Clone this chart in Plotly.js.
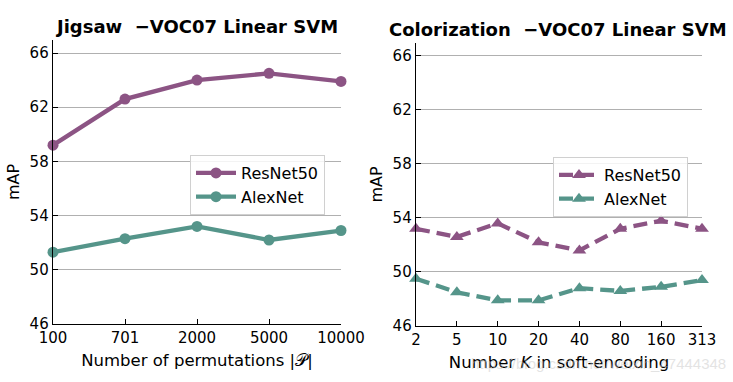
<!DOCTYPE html>
<html>
<head>
<meta charset="utf-8">
<script src="https://cdn.plot.ly/plotly-3.0.1.min.js"></script>
<style>html,body{margin:0;padding:0;background:#fff;}#chart{width:733px;height:382px;}</style>
</head>
<body>
<div id="chart"></div>
<script>
// Left panel: Jigsaw
const jigsawPerms = ["100", "701", "2000", "5000", "10000"];
const jigsawResNet50 = [59.2, 62.6, 64.0, 64.5, 63.9];
const jigsawAlexNet = [51.3, 52.3, 53.2, 52.2, 52.9];
// Right panel: Colorization
const colorK = ["2", "5", "10", "20", "40", "80", "160", "313"];
const colorResNet50 = [53.2, 52.6, 53.6, 52.2, 51.6, 53.2, 53.8, 53.2];
const colorAlexNet = [49.5, 48.5, 47.9, 47.9, 48.8, 48.6, 48.9, 49.4];
const yTicks = [46, 50, 54, 58, 62, 66];

const purple = "#8c5484";
const teal = "#55958a";
const FONT = "DejaVu Sans, sans-serif";

const traces = [
  {x: jigsawPerms, y: jigsawResNet50, name: "ResNet50", type: "scatter", mode: "lines+markers",
   xaxis: "x", yaxis: "y", legend: "legend", cliponaxis: false,
   line: {color: purple, width: 4.3}, marker: {color: purple, size: 11, symbol: "circle"}},
  {x: jigsawPerms, y: jigsawAlexNet, name: "AlexNet", type: "scatter", mode: "lines+markers",
   xaxis: "x", yaxis: "y", legend: "legend", cliponaxis: false,
   line: {color: teal, width: 4.3}, marker: {color: teal, size: 11, symbol: "circle"}},
  {x: colorK, y: colorResNet50, name: "ResNet50", type: "scatter", mode: "lines+markers",
   xaxis: "x2", yaxis: "y2", legend: "legend2", cliponaxis: false,
   line: {color: purple, width: 4.3, dash: "14px,7px"}, marker: {color: purple, size: 12, symbol: "triangle-up"}},
  {x: colorK, y: colorAlexNet, name: "AlexNet", type: "scatter", mode: "lines+markers",
   xaxis: "x2", yaxis: "y2", legend: "legend2", cliponaxis: false,
   line: {color: teal, width: 4.3, dash: "14px,7px"}, marker: {color: teal, size: 12, symbol: "triangle-up"}}
];

function xax(domain, n, anchor, title) {
  return {
    domain: domain, anchor: anchor, type: "category", range: [0, n - 1],
    showline: true, linecolor: "#000", linewidth: 1.3, mirror: false,
    ticks: "inside", ticklen: 5, tickcolor: "#000", tickwidth: 1,
    showgrid: false, zeroline: false,
    tickfont: {family: FONT, size: 15, color: "#000"},
    title: {text: title, font: {family: FONT, size: 16.5, color: "#000"}, standoff: 8},
    fixedrange: true
  };
}
function yax(domain, anchor) {
  return {
    domain: domain, anchor: anchor, range: [46, 66.96],
    tickvals: yTicks, ticktext: yTicks.map(String),
    showline: true, linecolor: "#000", linewidth: 1.3,
    ticks: "inside", ticklen: 5, tickcolor: "#000", tickwidth: 1,
    showgrid: true, gridcolor: "#b0b0b0", gridwidth: 1, zeroline: false,
    tickfont: {family: FONT, size: 15, color: "#000"},
    title: {text: "mAP", font: {family: FONT, size: 16, color: "#000"}, standoff: 6},
    fixedrange: true
  };
}

const layout = {
  width: 733, height: 382,
  margin: {l: 0, r: 0, t: 0, b: 0},
  paper_bgcolor: "#fff", plot_bgcolor: "#fff",
  font: {family: FONT, color: "#000"},
  xaxis: xax([53/733, 341/733], jigsawPerms.length, "y", "Number of permutations |𝒫|"),
  yaxis: yax([(382-324)/382, (382-40)/382], "x"),
  xaxis2: xax([416/733, 702/733], colorK.length, "y2", "Number <i>K</i> in soft-encoding"),
  yaxis2: yax([(382-326)/382, (382-43)/382], "x2"),
  legend: {x: 190/733, y: 1 - 155/382, xanchor: "left", yanchor: "top",
    bgcolor: "rgba(255,255,255,0.85)", bordercolor: "#d0d0d0", borderwidth: 1,
    font: {family: FONT, size: 16, color: "#000"}, itemwidth: 40},
  legend2: {x: 553/733, y: 1 - 157/382, xanchor: "left", yanchor: "top",
    bgcolor: "rgba(255,255,255,0.85)", bordercolor: "#d0d0d0", borderwidth: 1,
    font: {family: FONT, size: 16, color: "#000"}, itemwidth: 40},
  showlegend: true,
  annotations: [
    {text: "<b>Jigsaw  −VOC07 Linear SVM</b>", xref: "paper", yref: "paper",
     x: 196/733, y: 1 - 27/382, xanchor: "center", yanchor: "middle", showarrow: false,
     font: {family: FONT, size: 18, color: "#000"}},
    {text: "<b>Colorization  −VOC07 Linear SVM</b>", xref: "paper", yref: "paper",
     x: 558/733, y: 1 - 29/382, xanchor: "center", yanchor: "middle", showarrow: false,
     font: {family: FONT, size: 18, color: "#000"}},
    {text: "https://blog.csdn.net/weixin_47444348", xref: "paper", yref: "paper",
     x: 728/733, y: 1 - 363/382, xanchor: "right", yanchor: "middle", showarrow: false,
     font: {family: "Liberation Sans, sans-serif", size: 15, color: "rgba(200,200,200,0.5)"}}
  ]
};

Plotly.newPlot("chart", traces, layout, {displayModeBar: false, staticPlot: true});
</script>
</body>
</html>
